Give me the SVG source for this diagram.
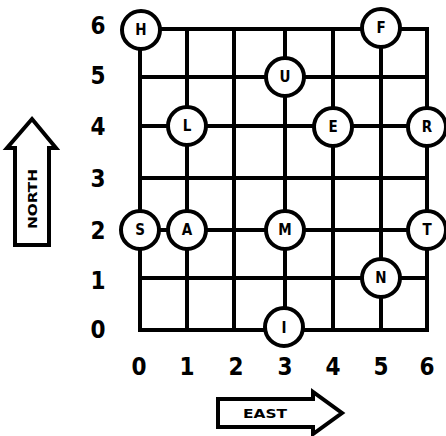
<svg xmlns="http://www.w3.org/2000/svg" width="446" height="436" viewBox="0 0 446 436">
<style>
.g{stroke:#000;stroke-width:4;fill:none;stroke-linecap:square}
.n circle{fill:#fff;stroke:#000;stroke-width:4}
.n text{font-family:"DejaVu Sans Condensed","DejaVu Sans",sans-serif;font-weight:bold;font-size:15px;text-anchor:middle;fill:#000}
.lab{font-family:"DejaVu Sans Condensed","DejaVu Sans",sans-serif;font-weight:bold;font-size:24px;text-anchor:middle;fill:#000}
.arr{fill:#fff;stroke:#000;stroke-width:4;stroke-linejoin:miter}
.at{font-family:"DejaVu Sans Condensed","DejaVu Sans",sans-serif;font-weight:bold;font-size:13px;text-anchor:middle;fill:#000}
</style>
<rect width="446" height="436" fill="#fff"/>
<g id="connectors" class="g">
<path d="M140 29H427M140 77H427M140 126H427M140 178H427M140 230H427M140 278H427M140 330H427"/>
<path d="M140 29V330M187 29V330M234 29V330M285 29V330M333 29V330M381 29V330M427 29V330"/>
</g>
<g id="node-H" class="n"><circle cx="141" cy="30" r="19"/><text x="141" y="35">H</text></g>
<g id="node-F" class="n"><circle cx="381" cy="28" r="19"/><text x="381" y="33">F</text></g>
<g id="node-U" class="n"><circle cx="285" cy="77" r="19"/><text x="285" y="82">U</text></g>
<g id="node-L" class="n"><circle cx="187" cy="126" r="19"/><text x="187" y="131">L</text></g>
<g id="node-E" class="n"><circle cx="333" cy="127" r="19"/><text x="333" y="132">E</text></g>
<g id="node-R" class="n"><circle cx="427" cy="127" r="19"/><text x="427" y="132">R</text></g>
<g id="node-S" class="n"><circle cx="140" cy="230" r="19"/><text x="140" y="235">S</text></g>
<g id="node-A" class="n"><circle cx="187" cy="230" r="19"/><text x="187" y="235">A</text></g>
<g id="node-M" class="n"><circle cx="285" cy="230" r="19"/><text x="285" y="235">M</text></g>
<g id="node-T" class="n"><circle cx="427" cy="230" r="19"/><text x="427" y="235">T</text></g>
<g id="node-N" class="n"><circle cx="381" cy="278" r="19"/><text x="381" y="283">N</text></g>
<g id="node-I" class="n"><circle cx="284" cy="327" r="19"/><text x="284" y="333">I</text></g>
<g id="y-labels" class="lab">
<text x="98" y="34">6</text>
<text x="98" y="84">5</text>
<text x="98" y="135">4</text>
<text x="98" y="187">3</text>
<text x="98" y="239">2</text>
<text x="98" y="289">1</text>
<text x="98" y="338">0</text>
</g>
<g id="x-labels" class="lab">
<text x="139" y="375">0</text>
<text x="187" y="375">1</text>
<text x="236" y="375">2</text>
<text x="285" y="375">3</text>
<text x="333" y="375">4</text>
<text x="381" y="375">5</text>
<text x="427" y="375">6</text>
</g>
<g id="north">
<path class="arr" d="M32 119L56 148H49V245H15V148H7Z"/>
<text class="at" transform="translate(37 199) rotate(-90)" textLength="60" lengthAdjust="spacingAndGlyphs">NORTH</text>
</g>
<g id="east">
<path class="arr" d="M218 399H313V392L342 413L313 434V427H218Z"/>
<text class="at" x="265" y="418" textLength="44" lengthAdjust="spacingAndGlyphs">EAST</text>
</g>
</svg>
